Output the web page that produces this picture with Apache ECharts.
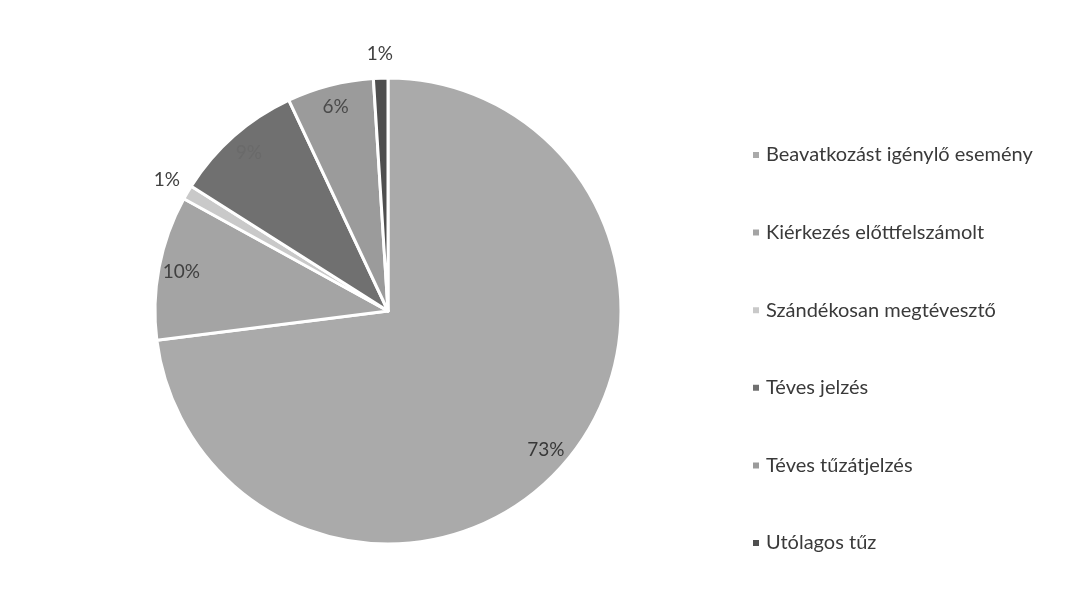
<!DOCTYPE html>
<html><head><meta charset="utf-8">
<script src="https://cdn.jsdelivr.net/npm/echarts@6/dist/echarts.min.js"></script>
<style>html,body{margin:0;padding:0;background:#fff}#c{width:1075px;height:605px}</style>
</head><body><div id="c"></div>
<script>
const categories = ['Beavatkozást igénylő esemény','Kiérkezés előttfelszámolt','Szándékosan megtévesztő','Téves jelzés','Téves tűzátjelzés','Utólagos tűz'];
const values = [73, 10, 1, 9, 6, 1];
const colors = ['#aaaaaa','#a4a4a4','#c9c9c9','#707070','#9b9b9b','#4f4f4f'];
const labelInside = [true, true, false, true, true, false];
const labelColors = ['#383838','#404040','#404040','#6a6a6a','#4a4a4a','#404040'];

const R = 233;
const center = [388, 311];
const chart = echarts.init(document.getElementById('c'));
const fontFamily = 'Lato, "Open Sans", sans-serif';

function labelSeries(radius, showInside) {
  return {
    type: 'pie',
    center: center,
    radius: radius,
    startAngle: 90,
    clockwise: true,
    silent: true,
    legendHoverLink: false,
    itemStyle: {color: 'rgba(0,0,0,0)'},
    labelLine: {show: false},
    data: categories.map((n, i) => ({
      name: n, value: values[i],
      label: {
        show: labelInside[i] === showInside,
        position: 'inside',
        formatter: values[i] + '%',
        fontFamily, fontSize: 19, color: labelColors[i]
      }
    }))
  };
}

chart.setOption({
  animation: false,
  color: colors,
  legend: {
    orient: 'vertical',
    left: 746,
    top: 140,
    icon: 'rect',
    itemWidth: 8,
    itemHeight: 8,
    itemGap: 57.6,
    textStyle: {fontFamily, fontSize: 20, color: '#3a3a3a', padding: [0,0,0,1]},
    data: categories
  },
  series: [
    {
      type: 'pie',
      center: center,
      radius: [0, R],
      startAngle: 90,
      clockwise: true,
      silent: true,
      label: {show: false},
      labelLine: {show: false},
      itemStyle: {borderColor: '#ffffff', borderWidth: 3},
      data: categories.map((n, i) => ({name: n, value: values[i]}))
    },
    labelSeries([R * 0.78, R], true),
    labelSeries([R * 1.0, R * 1.18], false)
  ]
});
</script></body></html>
